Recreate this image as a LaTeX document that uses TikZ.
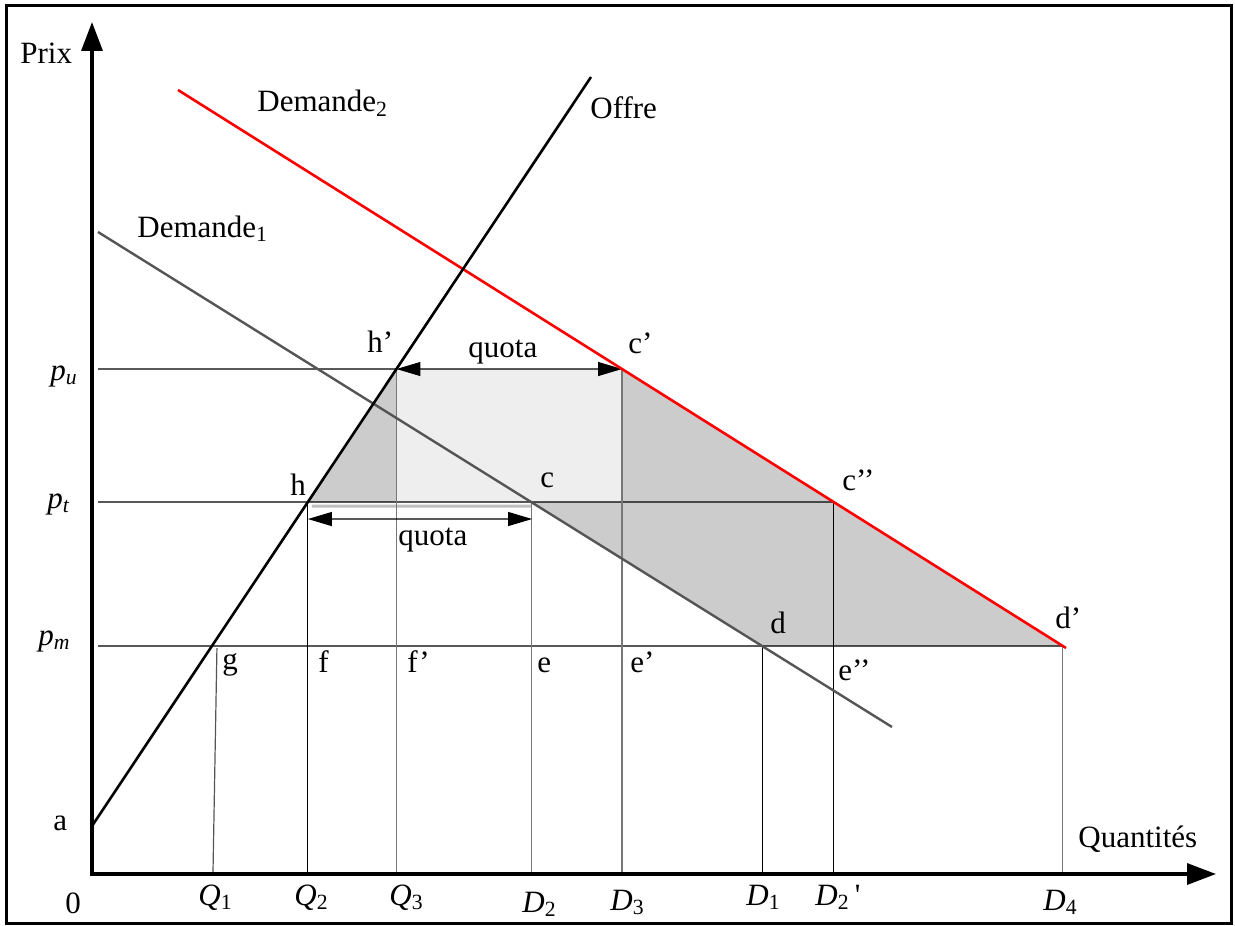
\documentclass[tikz,border=0pt]{standalone}
\usepackage{fontspec}
\setmainfont{Liberation Serif}
\usetikzlibrary{arrows.meta,calc}
\definecolor{demred}{HTML}{FF0000}
\definecolor{demgray}{HTML}{555555}
\definecolor{guidegray}{HTML}{777777}
\definecolor{areadark}{HTML}{CCCCCC}
\definecolor{arealight}{HTML}{EEEEEE}
\newcommand{\varlab}[2]{\textit{#1}\textsubscript{#2}}

\begin{document}
\begin{tikzpicture}[x=0.5pt, y=-0.5pt,
  lbl/.style={anchor=base west, inner sep=0pt, font=\fontsize{15.5}{18}\selectfont},
  guide/.style={line width=0.6pt},
  axisline/.style={line width=1.7pt, {Triangle[length=14.5pt,width=10.5pt]}-{Triangle[length=14.5pt,width=10.5pt]}},
  quotaline/.style={line width=0.6pt, {Triangle[length=12pt,width=7pt]}-{Triangle[length=12pt,width=7pt]}}]

\useasboundingbox (0,0) rectangle (1235,925);

% Frame
\draw[line width=1.5pt] (6.5,5.5) rectangle (1231.5,923.5);

% Axes and curves
\coordinate (O) at (92,874);
\coordinate (ytip) at (92,22);
\coordinate (xtip) at (1216,874);
\coordinate (a) at (92,826);
\coordinate (of) at (591,77);
\coordinate (d1s) at (98,232);
\coordinate (d1e) at (892,727);
\coordinate (d2s) at (178,90);
\coordinate (d2e) at (1066,648);

% Price levels
\coordinate (pu1) at (98,369);  \coordinate (pu2) at (1200,369);
\coordinate (pt1) at (98,502);  \coordinate (pt2) at (1200,502);
\coordinate (pm1) at (98,646);  \coordinate (pm2) at (1200,646);

\coordinate (g)   at (intersection of a--of and pm1--pm2);
\coordinate (h)   at (intersection of a--of and pt1--pt2);
\coordinate (hp)  at (intersection of a--of and pu1--pu2);
\coordinate (c)   at (intersection of d1s--d1e and pt1--pt2);
\coordinate (d)   at (intersection of d1s--d1e and pm1--pm2);
\coordinate (cp)  at (intersection of d2s--d2e and pu1--pu2);
\coordinate (cpp) at (intersection of d2s--d2e and pt1--pt2);
\coordinate (dp)  at (intersection of d2s--d2e and pm1--pm2);

% Shaded areas
\fill[arealight] (hp) rectangle (cp |- c);
\fill[areadark] (h) -- (hp) -- (hp |- h) -- cycle;
\fill[areadark] (cp) -- (dp) -- (d) -- (c) -- (cp |- c) -- cycle;
\draw[line width=1.5pt, black!25] ($(h)+(4,4)$) -- ($(c)+(0,4)$);

% Horizontal lines
\draw[guide] (pu1) -- (hp);
\draw[guide] (pt1) -- (cpp);
\draw[guide] (pm1) -- (dp);

% Vertical lines
\draw[guide, demgray] ($(g)+(5,2)$) -- (213,872);
\draw[guide] (h) -- (h |- O);
\draw[guide, guidegray] (hp) -- (hp |- O);
\draw[guide, guidegray] (c) -- (c |- O);
\draw[guide, guidegray] (cp) -- (cp |- O);
\draw[guide] (d) -- (d |- O);
\draw[guide] (cpp) -- (cpp |- O);
\draw[guide, guidegray] (dp) -- (dp |- O);

% Quota arrows
\draw[quotaline] (hp) -- (cp);
\draw[quotaline] ($(h)+(0,17)$) -- ($(c)+(1,17)$);

% Supply and demand
\draw[demgray, line width=1.2pt] (d1s) -- (d1e);
\draw[demred, line width=1.3pt] (d2s) -- (d2e);
\draw[line width=1.3pt] (a) -- (of);

% Axes
\draw[axisline] (ytip) -- (O) -- (xtip);

% ---------- Axis and curve labels ----------
\node[lbl] (lprix) at (20,64) {Prix};
\node[lbl] (lqty) at (1078,847) {Quantités};
\node[lbl] (lzero) at (65,913) {0};
\node[lbl] (la) at (53,830) {a};
\node[lbl] (ldemb) at (257,112) {Demande\textsubscript{2}};
\node[lbl] (ldema) at (137,237) {Demande\textsubscript{1}};
\node[lbl] (loffre) at (590,119) {Offre};

% ---------- Price labels ----------
\node[lbl] (lpu) at (50,380) {\varlab{p}{\textit{u}}};
\node[lbl] (lpt) at (47,508) {\varlab{p}{\textit{t}}};
\node[lbl] (lpm) at (38,645) {\varlab{p}{\textit{m}}};

% ---------- Quantity labels ----------
\node[lbl] (lqa) at (198,905) {\varlab{Q}{1}};
\node[lbl] (lqb) at (294,905) {\varlab{Q}{2}};
\node[lbl] (lqc) at (389,905) {\varlab{Q}{3}};
\node[lbl] (lddb) at (522,912) {\varlab{D}{2}};
\node[lbl] (lddc) at (610,910) {\varlab{D}{3}};
\node[lbl] (ldda) at (746,905) {\varlab{D}{1}};
\node[lbl] (lddbp) at (815,905) {\varlab{D}{2}\,\textquotesingle};
\node[lbl] (lddd) at (1043,910) {\varlab{D}{4}};

% ---------- Point labels ----------
\node[lbl] (lhp) at (367,352) {h’};
\node[lbl] (lh) at (290,495) {h};
\node[lbl] (lc) at (540,487) {c};
\node[lbl] (lcp) at (628,353) {c’};
\node[lbl] (lcpp) at (842,490) {c’’};
\node[lbl] (ld) at (770,633) {d};
\node[lbl] (ldp) at (1055,628) {d’};
\node[lbl] (lepp) at (838,680) {e’’};
\node[lbl] (lg) at (222,669) {g};
\node[lbl] (lf) at (318,672) {f};
\node[lbl] (lfp) at (407,672) {f’};
\node[lbl] (le) at (537,672) {e};
\node[lbl] (lep) at (630,672) {e’};
\node[lbl] (lquu) at (468,357) {quota};
\node[lbl] (lqul) at (398,545) {quota};

\end{tikzpicture}
\end{document}
